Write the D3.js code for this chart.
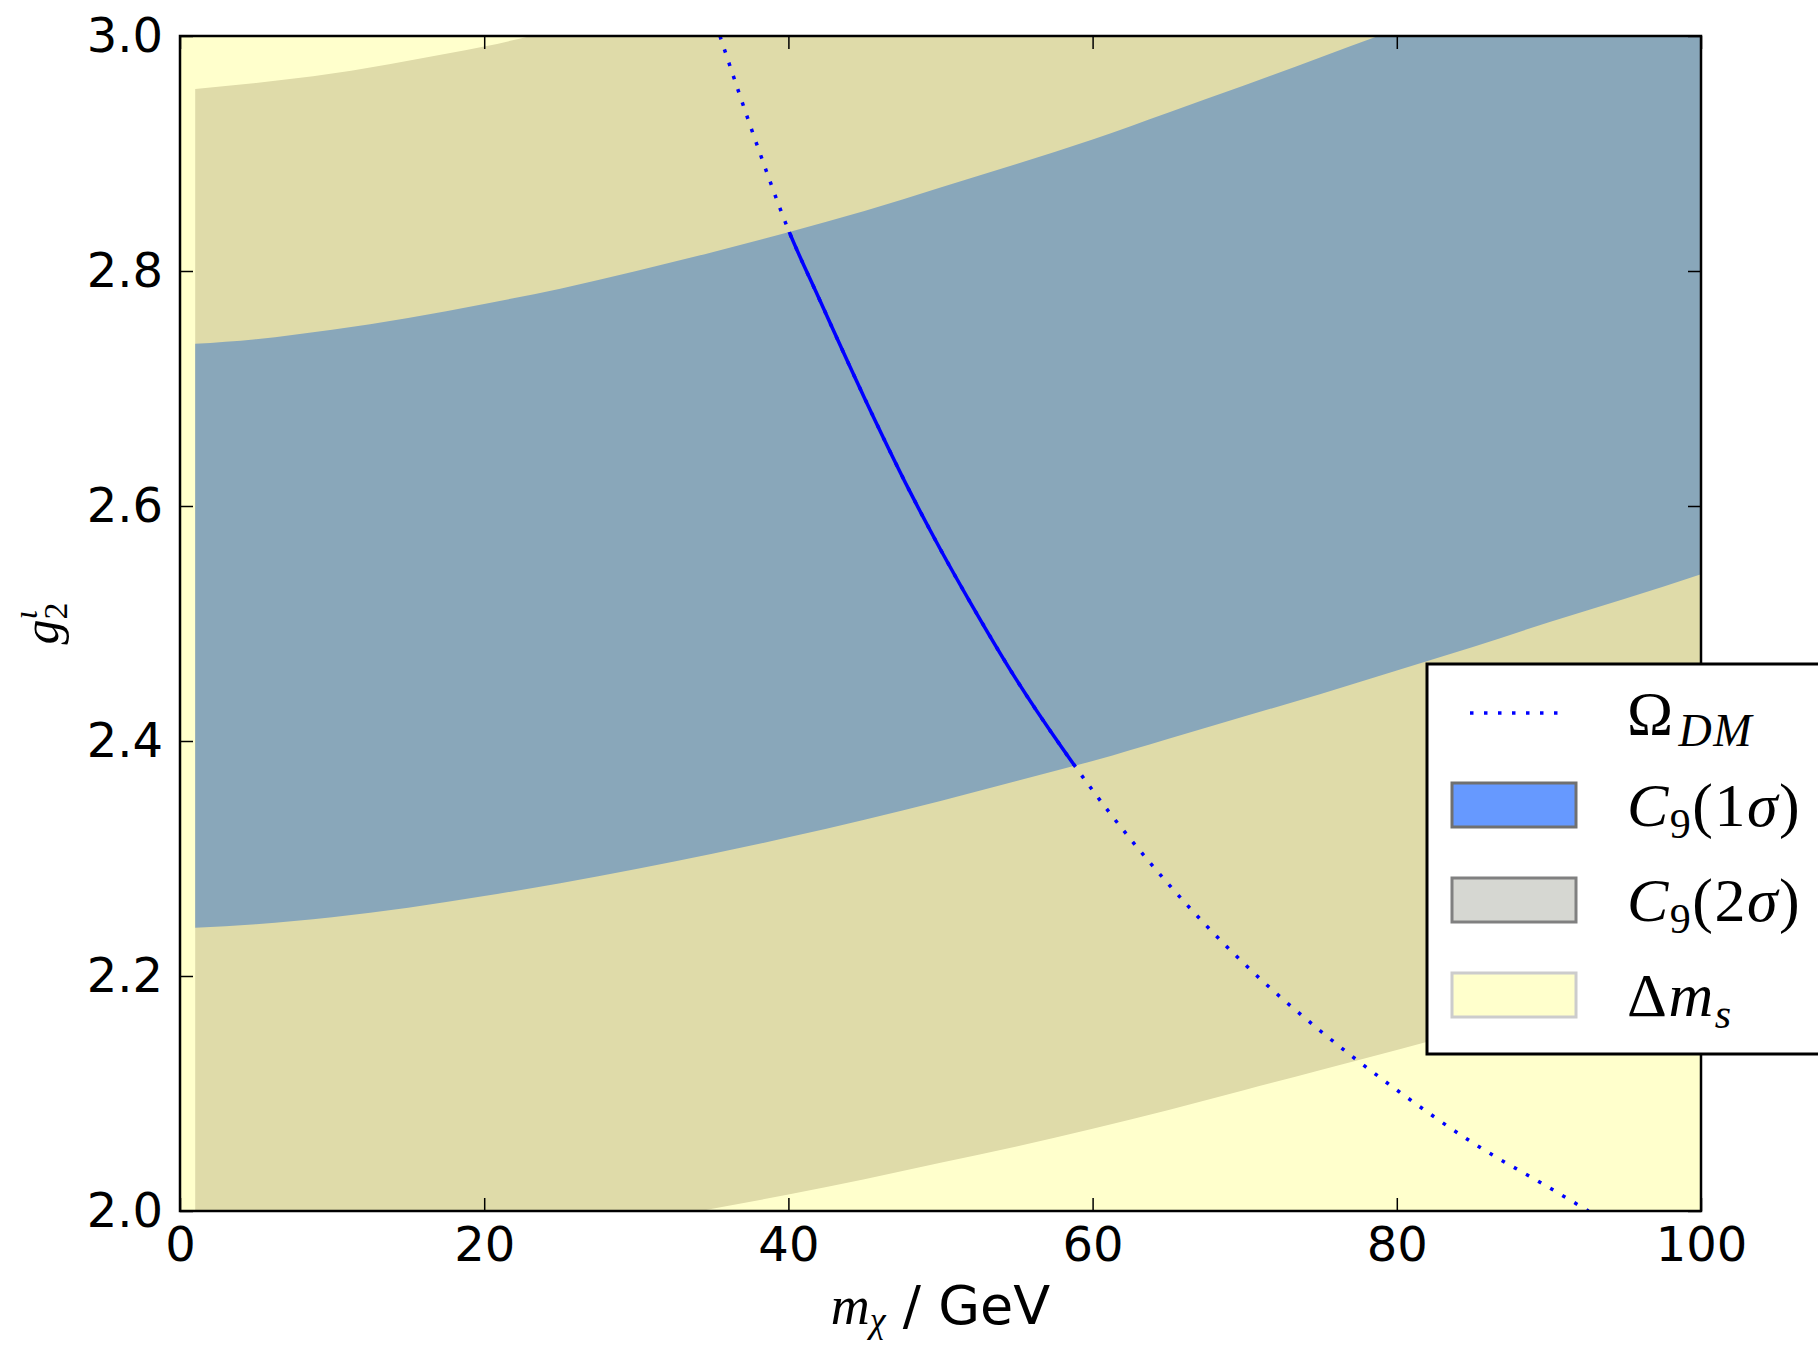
<!DOCTYPE html>
<html>
<head>
<meta charset="utf-8">
<script src="https://cdn.jsdelivr.net/npm/d3@7"></script>
<style>
  body { margin: 0; background: #fff; }
</style>
</head>
<body>
<svg id="chart" width="1818" height="1345" viewBox="0 0 1818 1345"></svg>
<script>
// band boundaries, m_chi in GeV
const massGrid = [1, 5, 10, 15, 20, 25, 30, 35, 40, 45, 50, 55, 60, 65, 70, 75, 80, 85, 90, 95, 100];
const oneSigmaUpper = [2.738, 2.742, 2.750, 2.760, 2.772, 2.785, 2.800, 2.816, 2.833, 2.851, 2.871, 2.891, 2.912, 2.935, 2.958, 2.982, 3.006, 3.032, 3.058, 3.085, 3.113];
const oneSigmaLower = [2.241, 2.244, 2.250, 2.258, 2.268, 2.279, 2.291, 2.304, 2.318, 2.333, 2.349, 2.366, 2.383, 2.402, 2.421, 2.440, 2.460, 2.480, 2.501, 2.521, 2.542];
const twoSigmaUpper = [2.955, 2.960, 2.968, 2.979, 2.991, 3.006, 3.022, 3.039, 3.057, 3.077, 3.098, 3.120, 3.143, 3.167, 3.192, 3.218, 3.245, 3.272, 3.301, 3.330, 3.360];
const twoSigmaLower = [1.947, 1.949, 1.955, 1.962, 1.970, 1.980, 1.990, 2.002, 2.014, 2.027, 2.041, 2.055, 2.070, 2.086, 2.103, 2.120, 2.137, 2.155, 2.174, 2.193, 2.213];

// Delta m_s allowed region covers the whole window
const deltaMsMass = [0, 100];
const deltaMsRange = [2.0, 3.0];

// relic density curve
const omegaMass = [35.5, 38, 40, 42, 45, 48, 50, 52, 55, 58, 60, 65, 70, 75, 80, 85, 90, 92.6];
const omegaCoupling = [3.0, 2.905, 2.835, 2.777, 2.692, 2.612, 2.563, 2.517, 2.452, 2.394, 2.358, 2.278, 2.210, 2.153, 2.103, 2.058, 2.020, 2.0];

const xTicks = [0, 20, 40, 60, 80, 100];
const yTicks = [2.0, 2.2, 2.4, 2.6, 2.8, 3.0];

const svg = d3.select("#chart");
const width = 1818;
const height = 1345;
const margin = { top: 36, right: 117, bottom: 134, left: 180 };

const x = d3.scaleLinear().domain([0, 100]).range([margin.left, width - margin.right]);
const y = d3.scaleLinear().domain([2, 3]).range([height - margin.bottom, margin.top]);

svg.append("rect").attr("width", width).attr("height", height).attr("fill", "#fff");

svg.append("clipPath").attr("id", "plot-clip")
  .append("rect")
  .attr("x", x(0)).attr("y", y(3))
  .attr("width", x(100) - x(0)).attr("height", y(2) - y(3));

const plot = svg.append("g").attr("clip-path", "url(#plot-clip)");

plot.append("rect")
  .attr("x", x(deltaMsMass[0]))
  .attr("y", y(deltaMsRange[1]))
  .attr("width", x(deltaMsMass[1]) - x(deltaMsMass[0]))
  .attr("height", y(deltaMsRange[0]) - y(deltaMsRange[1]))
  .attr("fill", "#ffffcc");

const band = (lo, hi) => d3.area()
  .x((d, i) => x(massGrid[i]))
  .y0((d, i) => y(lo[i]))
  .y1((d, i) => y(hi[i]))
  .curve(d3.curveMonotoneX)(massGrid);

plot.append("path").attr("d", band(twoSigmaLower, twoSigmaUpper)).attr("fill", "#dfdba9");
plot.append("path").attr("d", band(oneSigmaLower, oneSigmaUpper)).attr("fill", "#89a7ba");

svg.append("clipPath").attr("id", "band-clip")
  .append("path").attr("d", band(oneSigmaLower, oneSigmaUpper));

const omegaLine = d3.line()
  .x((d, i) => x(omegaMass[i]))
  .y((d, i) => y(omegaCoupling[i]))
  .curve(d3.curveMonotoneX)(omegaMass);

plot.append("path")
  .attr("d", omegaLine)
  .attr("fill", "none")
  .attr("stroke", "#0000ff")
  .attr("stroke-width", 3.5)
  .attr("stroke-dasharray", "3.5,10.5");

plot.append("g").attr("clip-path", "url(#band-clip)")
  .append("path")
  .attr("d", omegaLine)
  .attr("fill", "none")
  .attr("stroke", "#0000ff")
  .attr("stroke-width", 3.5);

// axes, ticks pointing inwards on all four sides
const tickFont = c => c.selectAll("text")
  .attr("fill", "#000")
  .attr("font-family", "DejaVu Sans")
  .attr("font-size", 48);
const tickStyle = c => {
  c.select(".domain").remove();
  c.selectAll(".tick line").attr("stroke", "#000").attr("stroke-width", 1.5);
};

svg.append("g")
  .attr("transform", `translate(0, ${y(2)})`)
  .call(d3.axisBottom(x).tickValues(xTicks).tickSize(-13).tickPadding(16).tickFormat(d3.format("d")))
  .call(tickStyle).call(tickFont);

svg.append("g")
  .attr("transform", `translate(0, ${y(3)})`)
  .call(d3.axisTop(x).tickValues(xTicks).tickSize(-13).tickFormat(""))
  .call(tickStyle);

svg.append("g")
  .attr("transform", `translate(${x(0)}, 0)`)
  .call(d3.axisLeft(y).tickValues(yTicks).tickSize(-13).tickPadding(17).tickFormat(d3.format(".1f")))
  .call(tickStyle).call(tickFont);

svg.append("g")
  .attr("transform", `translate(${x(100)}, 0)`)
  .call(d3.axisRight(y).tickValues(yTicks).tickSize(-13).tickFormat(""))
  .call(tickStyle);

svg.append("rect")
  .attr("x", x(0)).attr("y", y(3))
  .attr("width", x(100) - x(0)).attr("height", y(2) - y(3))
  .attr("fill", "none")
  .attr("stroke", "#000")
  .attr("stroke-width", 2.5);

// axis labels
const xl = svg.append("text")
  .attr("x", (x(0) + x(100)) / 2)
  .attr("y", 1324)
  .attr("text-anchor", "middle")
  .attr("font-size", 54)
  .attr("fill", "#000");
xl.append("tspan").attr("font-family", "Liberation Serif").attr("font-style", "italic").text("m");
xl.append("tspan").attr("font-family", "Liberation Serif").attr("font-style", "italic").attr("font-size", 36).attr("dy", 8).text("χ");
xl.append("tspan").attr("font-family", "DejaVu Sans").attr("dy", -8).text(" / GeV");

const yl = svg.append("text")
  .attr("transform", `translate(58, ${(y(2) + y(3)) / 2}) rotate(-90)`)
  .attr("text-anchor", "middle")
  .attr("font-family", "Liberation Serif")
  .attr("font-size", 50)
  .attr("fill", "#000");
yl.append("tspan").attr("font-style", "italic").text("g");
yl.append("tspan").attr("font-size", 34).attr("dy", 9).text("2");
yl.append("tspan").attr("font-style", "italic").attr("font-size", 34).attr("dx", -17).attr("dy", -30).text("ι");

// legend
const legend = svg.append("g");
legend.append("rect")
  .attr("x", 1427).attr("y", 664)
  .attr("width", 420).attr("height", 390)
  .attr("fill", "#fff")
  .attr("stroke", "#000")
  .attr("stroke-width", 3);

const rowY = [713, 805, 900, 995];

legend.append("line")
  .attr("x1", 1470).attr("x2", 1558)
  .attr("y1", rowY[0]).attr("y2", rowY[0])
  .attr("stroke", "#0000ff")
  .attr("stroke-width", 3.5)
  .attr("stroke-dasharray", "3.5,10.5");

const swatches = [
  { fill: "#6699ff", stroke: "#707070" },
  { fill: "#d6d7d2", stroke: "#808080" },
  { fill: "#ffffcc", stroke: "#cccccc" }
];
swatches.forEach((s, i) => {
  legend.append("rect")
    .attr("x", 1452).attr("y", rowY[i + 1] - 22)
    .attr("width", 124).attr("height", 44)
    .attr("fill", s.fill)
    .attr("stroke", s.stroke)
    .attr("stroke-width", 3);
});

const lx = 1627;
const labelText = (row) => legend.append("text")
  .attr("x", lx).attr("y", rowY[row] + 21)
  .attr("font-family", "Liberation Serif")
  .attr("font-size", 62)
  .attr("letter-spacing", 1.5)
  .attr("fill", "#000");

const t0 = labelText(0);
t0.append("tspan").text("Ω");
t0.append("tspan").attr("font-style", "italic").attr("font-size", 46).attr("dx", 4).attr("dy", 12).text("DM");

["1", "2"].forEach((n, i) => {
  const t = labelText(i + 1);
  t.append("tspan").attr("font-style", "italic").text("C");
  t.append("tspan").attr("font-size", 42).attr("dy", 12).text("9");
  t.append("tspan").attr("dy", -12).text("(" + n);
  t.append("tspan").attr("font-style", "italic").text("σ");
  t.append("tspan").text(")");
});

const t3 = labelText(3);
t3.append("tspan").text("Δ");
t3.append("tspan").attr("font-style", "italic").text("m");
t3.append("tspan").attr("font-style", "italic").attr("font-size", 42).attr("dy", 12).text("s");
</script>
</body>
</html>
